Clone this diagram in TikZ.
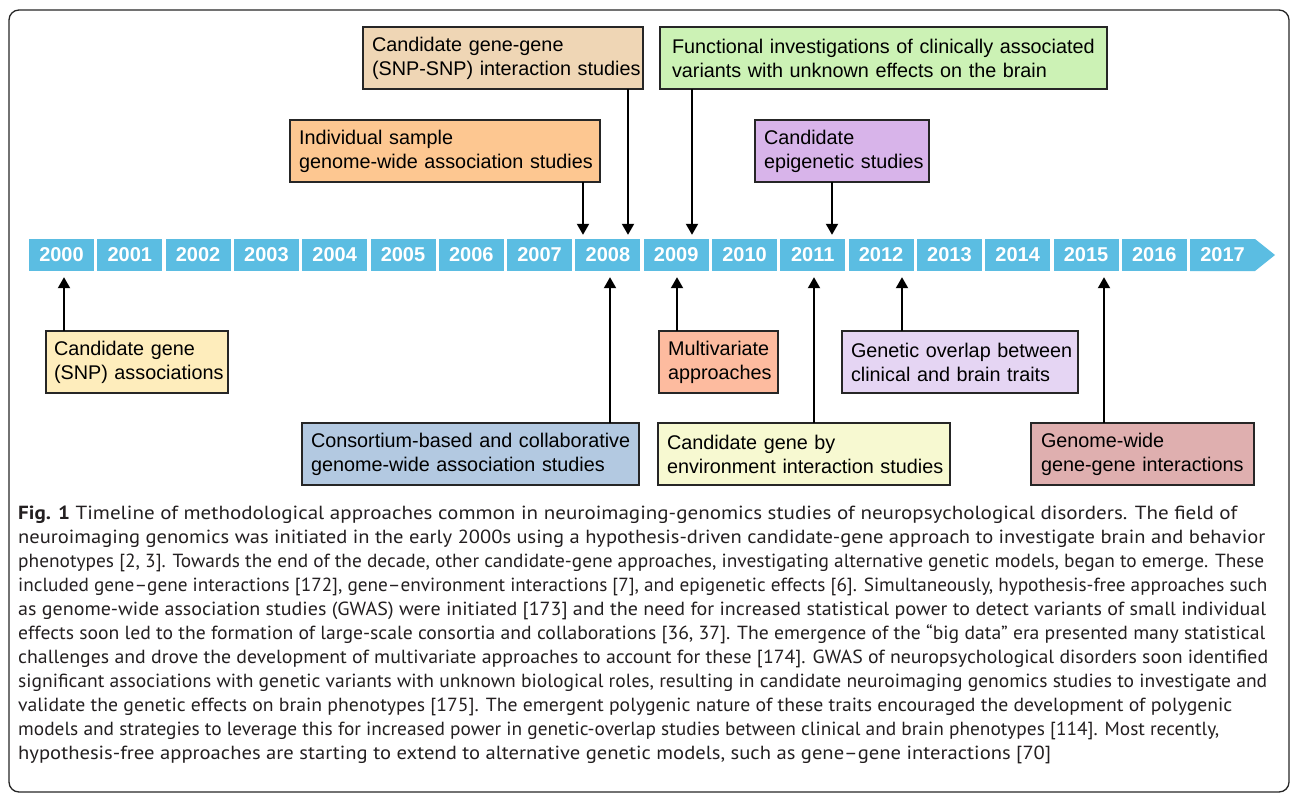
\documentclass[tikz,border=0pt]{standalone}
\usepackage{graphicx}
\usepackage{fontspec}
\setmainfont{Liberation Sans}
\newfontfamily\capfont{PT Sans}
\usetikzlibrary{arrows.meta}
\definecolor{yearblue}{HTML}{5BBDE2}
\definecolor{ctan}{HTML}{EFD6B5}
\definecolor{corange}{HTML}{FDC791}
\definecolor{cgreen}{HTML}{CCF2B5}
\definecolor{cpurple}{HTML}{D8B4EA}
\definecolor{cyellow}{HTML}{FEEDBC}
\definecolor{csalmon}{HTML}{FDBB9F}
\definecolor{clav}{HTML}{E5D5F3}
\definecolor{cblue}{HTML}{B3C9E1}
\definecolor{cpale}{HTML}{F7F9D1}
\definecolor{crose}{HTML}{DFAFAF}
\definecolor{capgray}{HTML}{231F20}
\newcommand\twoln[2]{\mbox{#1}\\\mbox{#2}}
\newcommand\capln[2]{\resizebox{#1pt}{\height}{#2}}
\begin{document}
\begin{tikzpicture}[x=1pt,y=-1pt,
  yearbox/.style={fill=yearblue,text=white,minimum width=65pt,minimum height=32pt,inner sep=0pt,
    font=\fontsize{20}{21}\selectfont\bfseries},
  evbox/.style={draw=black!85,line width=1.1pt,anchor=north west,minimum height=62pt,
    inner xsep=9pt,inner ysep=0pt,align=left,outer sep=0pt,
    font=\fontsize{19.8}{24}\selectfont},
  arr/.style={line width=2pt,-{Triangle[width=12pt,length=11pt]}}]
\useasboundingbox (0,0) rectangle (1290,795);
\draw[line width=1.3pt,black!85,rounded corners=10pt] (9,10) rectangle (1289,792);
% timeline
\foreach \yr [count=\i from 0] in {2000,...,2016}{
  \node[yearbox] (y\yr) at ({61.5+68.3*\i},255) {\yr};
}
\fill[yearblue] (1190,239) -- (1255,239) -- (1275,255) -- (1255,271) -- (1190,271) -- cycle;
\node[yearbox,fill=none] (y2017) at (1222.5,255) {2017};
% top boxes
\node[evbox,fill=ctan,text width=262pt] (b1) at (363,27) {\twoln{Candidate gene-gene}{(SNP-SNP) interaction studies}};
\node[evbox,fill=corange,text width=292pt] (b2) at (290,120) {\twoln{Individual sample}{genome-wide association studies}};
\node[evbox,fill=cgreen,inner xsep=12pt,text width=423pt] (b3) at (660,27) {\twoln{Functional investigations of clinically associated}{variants with unknown effects on the brain}};
\node[evbox,fill=cpurple,text width=156pt] (b4) at (755,120) {\twoln{Candidate}{epigenetic studies}};
% bottom boxes
\node[evbox,fill=cyellow,inner xsep=8pt,text width=166pt] (b5) at (46,331) {\twoln{Candidate gene}{(SNP) associations}};
\node[evbox,fill=csalmon,text width=101pt] (b6) at (659,331) {\twoln{Multivariate}{approaches}};
\node[evbox,fill=clav,text width=218pt] (b7) at (842,331) {\twoln{Genetic overlap between}{clinical and brain traits}};
\node[evbox,fill=cblue,text width=319pt] (b8) at (302,423) {\twoln{Consortium-based and collaborative}{genome-wide association studies}};
\node[evbox,fill=cpale,text width=274pt] (b9) at (658,423) {\twoln{Candidate gene by}{environment interaction studies}};
\node[evbox,fill=crose,inner xsep=10pt,text width=203pt] (b10) at (1031,423) {\twoln{Genome-wide}{gene-gene interactions}};
% arrows down
\draw[arr,shorten >=4pt] (b1.south -| 628,0) -- (y2008.north -| 628,0);
\draw[arr,shorten >=4pt] (b2.south -| 583,0) -- (y2008.north -| 583,0);
\draw[arr,shorten >=4pt] (b3.south -| 692,0) -- (y2009.north -| 692,0);
\draw[arr,shorten >=4pt] (b4.south -| 832,0) -- (y2011.north -| 832,0);
% arrows up
\draw[arr,shorten >=6pt] (b5.north -| 64,0) -- (y2000.south -| 64,0);
\draw[arr,shorten >=6pt] (b6.north -| 677,0) -- (y2009.south -| 677,0);
\draw[arr,shorten >=6pt] (b7.north -| 902,0) -- (y2012.south -| 902,0);
\draw[arr,shorten >=6pt] (b8.north -| 610,0) -- (y2008.south -| 610,0);
\draw[arr,shorten >=6pt] (b9.north -| 814,0) -- (y2011.south -| 814,0);
\draw[arr,shorten >=6pt] (b10.north -| 1104,0) -- (y2015.south -| 1104,0);
% caption
\node[anchor=north west,inner sep=0pt,align=left,text=capgray,
  font=\capfont\fontsize{19}{24}\selectfont] (cap) at (18,506) {%
\capln{1219}{\textbf{Fig. 1} Timeline of methodological approaches common in neuroimaging-genomics studies of neuropsychological disorders. The field of}\\
\capln{1247}{neuroimaging genomics was initiated in the early 2000s using a hypothesis-driven candidate-gene approach to investigate brain and behavior}\\
\capln{1246}{phenotypes [2, 3]. Towards the end of the decade, other candidate-gene approaches, investigating alternative genetic models, began to emerge. These}\\
\capln{1249}{included gene–gene interactions [172], gene–environment interactions [7], and epigenetic effects [6]. Simultaneously, hypothesis-free approaches such}\\
\capln{1248}{as genome-wide association studies (GWAS) were initiated [173] and the need for increased statistical power to detect variants of small individual}\\
\capln{1247}{effects soon led to the formation of large-scale consortia and collaborations [36, 37]. The emergence of the “big data” era presented many statistical}\\
\capln{1250}{challenges and drove the development of multivariate approaches to account for these [174]. GWAS of neuropsychological disorders soon identified}\\
\capln{1249}{significant associations with genetic variants with unknown biological roles, resulting in candidate neuroimaging genomics studies to investigate and}\\
\capln{1214}{validate the genetic effects on brain phenotypes [175]. The emergent polygenic nature of these traits encouraged the development of polygenic}\\
\capln{1201}{models and strategies to leverage this for increased power in genetic-overlap studies between clinical and brain phenotypes [114]. Most recently,}\\
\capln{1033}{hypothesis-free approaches are starting to extend to alternative genetic models, such as gene–gene interactions [70]}};
\end{tikzpicture}
\end{document}
